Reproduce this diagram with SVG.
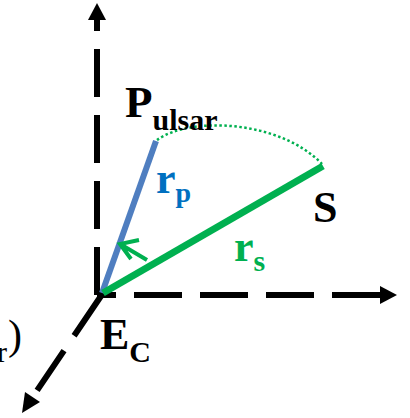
<svg xmlns="http://www.w3.org/2000/svg" width="410" height="418" viewBox="0 0 410 418">
<style>
.axis{stroke:#000;stroke-width:6;fill:none;stroke-dasharray:48 18}
.head{fill:#000}
.lbl{font-family:"Liberation Serif","Times New Roman",serif;font-weight:bold}
</style>
<rect width="410" height="418" fill="#fff"/>
<g id="connectors">
  <path class="axis" d="M97,295 L97,19"/>
  <polygon class="head" points="97,3 88,20 106,20"/>
  <path class="axis" d="M380,295 L97,295"/>
  <polygon class="head" points="397,295 380,286 380,304"/>
  <path class="axis" d="M101,296 L32,398"/>
  <polygon class="head" points="22,413 25,392 40,402"/>
  <path d="M102,293 L156,141" stroke="#4F7EC0" stroke-width="6" fill="none"/>
  <path d="M103,293 L323,166" stroke="#00B050" stroke-width="7" fill="none"/>
  <path d="M157,140 C190,116 280,120 322,164" stroke="#00B050" stroke-width="2.5" stroke-dasharray="2.5 2.5" fill="none"/>
  <path d="M139,240 L120,244 L131,259 M120,244 L147,260" stroke="#00B050" stroke-width="4" fill="none" stroke-linejoin="miter"/>
</g>
<g id="pulsar">
  <text class="lbl" x="125" y="117" font-size="45">P<tspan font-size="30" y="130">ulsar</tspan></text>
</g>
<g id="source">
  <text class="lbl" x="313" y="222" font-size="44">S</text>
</g>
<g id="rp">
  <text class="lbl" x="156" y="193" font-size="44" fill="#0070C0">r<tspan font-size="28" y="202">p</tspan></text>
</g>
<g id="rs">
  <text class="lbl" x="234" y="261" font-size="44" fill="#00B050">r<tspan font-size="30" y="271">s</tspan></text>
</g>
<g id="ec">
  <text class="lbl" x="100" y="349" font-size="44">E<tspan font-size="30" y="362">C</tspan></text>
</g>
<g id="clipped">
  <text x="7" y="362" text-anchor="end" font-size="30" font-family="Liberation Serif, serif">r</text>
  <text x="8" y="349" font-size="42" font-family="Liberation Serif, serif">)</text>
</g>
</svg>
